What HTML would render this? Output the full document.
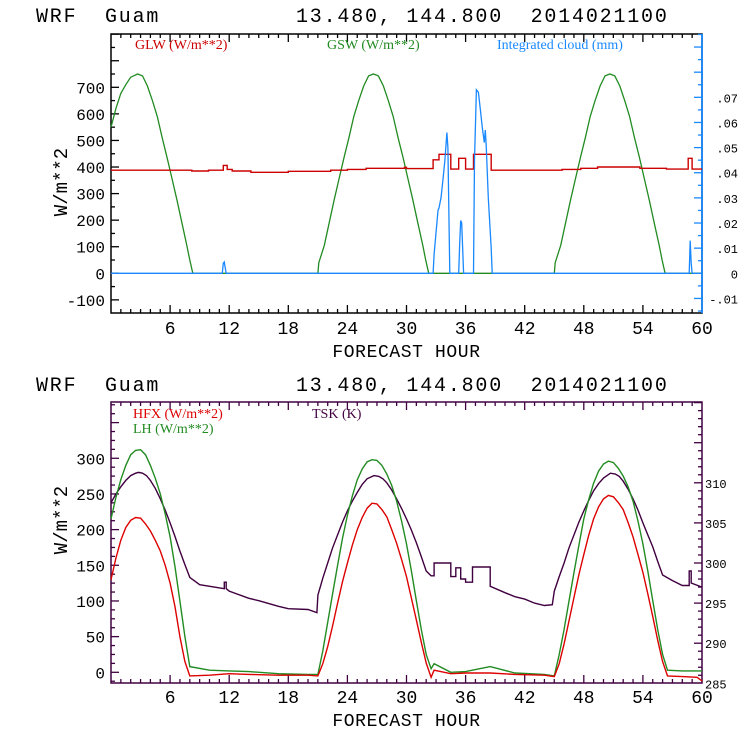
<!DOCTYPE html>
<html><head><meta charset="utf-8"><style>
body{margin:0;background:#fff;}
svg{display:block;font-family:"Liberation Mono",monospace;}
.ttl{font-size:20px;fill:#000;letter-spacing:1.8px;}
.tk{fill:#000;}
.tks{font-size:12px;fill:#000;}
.lg{font-family:"Liberation Serif",serif;font-size:14px;}
</style></head><body>
<svg id="chart" width="740" height="740" viewBox="0 0 740 740" xmlns="http://www.w3.org/2000/svg">
<text class="ttl" x="36" y="22" xml:space="preserve">WRF  Guam</text>
<text class="ttl" x="296" y="22" xml:space="preserve">13.480, 144.800  2014021100</text>
<text class="ttl" x="36" y="391" xml:space="preserve">WRF  Guam</text>
<text class="ttl" x="296" y="391" xml:space="preserve">13.480, 144.800  2014021100</text>
<g id="top"></g>
<g id="bot"></g>
</svg>
<script>
// ---- top panel data ----
const gswHours=[0,0.5,1,1.5,2,2.7,3.2,3.7,4.2,4.7,5.2,5.7,6.2,6.7,7.2,7.7,8,8.3,
21,21.1,21.65,22.15,22.65,23.15,23.65,24.15,24.65,25.15,25.65,26.15,26.65,27.15,27.65,28.15,28.65,29.15,29.65,30.15,30.65,31.15,31.65,31.95,32.25,
45,45.1,45.65,46.15,46.65,47.15,47.65,48.15,48.65,49.15,49.65,50.15,50.65,51.15,51.65,52.15,52.65,53.15,53.65,54.15,54.65,55.15,55.65,55.95,56.25,60];
const gswVals=[550,620,677,710,738,750,743,705,650,590,510,435,355,275,190,105,50,0,
0,40,105,190,275,355,435,510,590,650,705,743,750,743,705,650,590,510,435,355,275,190,105,50,0,
0,40,105,190,275,355,435,510,590,650,705,743,750,743,705,650,590,510,435,355,275,190,105,50,0,0];
const glwStepHours=[0,8.2,9.9,11.4,11.8,12.3,14.2,18.0,22.3,24.0,25.9,29.8,30.0,32.7,33.3,34.5,35.3,36.0,36.8,38.6,45.8,47.7,49.4,53.7,56.4,58.6,59.0,60];
const glwStepVals=[388,385,388,406,391,385,380,384,388,391,395,399,394,427,448,392,433,392,448,388,391,395,400,395,392,433,392];
const cloudHours=[0,11.3,11.4,11.5,11.6,11.7,32.7,32.8,32.9,33.2,33.3,33.5,33.7,33.9,34.1,34.2,34.4,35.3,35.4,35.5,35.6,35.8,36.8,36.9,37.1,37.3,37.5,37.7,37.9,38.0,38.1,38.3,38.6,38.7,58.6,58.7,58.8,58.9,59.0,60];
const cloudVals=[0,0,0.004,0.0045,0.002,0,0,0.0075,0.012,0.025,0.026,0.03,0.037,0.045,0.056,0.05,0,0,0.012,0.021,0.02,0,0,0.045,0.073,0.072,0.065,0.058,0.052,0.057,0.05,0.03,0.01,0,0,0,0.013,0.004,0,0];
const topLeftTicks=[-100,0,100,200,300,400,500,600,700];
const topRightTicks=[-0.01,0,0.01,0.02,0.03,0.04,0.05,0.06,0.07];
const topRightLabels=["-.01","0",".01",".02",".03",".04",".05",".06",".07"];
const xTicks=[6,12,18,24,30,36,42,48,54,60];
// ---- bottom panel data ----
const fluxHours=[0,0.5,1,1.5,2,2.5,3,3.5,4,4.5,5,5.5,6,6.5,7,7.5,8,
10,12,14,17,20,21,
21.5,22,22.5,23,23.5,24,24.5,25,25.5,26,26.5,27,27.5,28,28.5,29,29.5,30,30.5,31,31.5,32,32.5,
32.8,34.5,36,38.5,41,44,45,
45.5,46,46.5,47,47.5,48,48.5,49,49.5,50,50.5,51,51.5,52,52.5,53,53.5,54,54.5,55,55.5,56,56.5,
58,59.5,60];
const hfxVals=[130,160,185,203,213,217,216,208,198,185,170,150,125,92,50,15,-5,
-4,-2,-3,-4,-4,-5,
12,36,65,97,127,153,178,200,217,230,237,236,228,218,200,181,158,134,104,73,42,13,-7,
3,-2,-1,-1,-3,-4,-6,
12,40,72,105,137,165,192,215,232,243,248,246,238,228,210,190,165,140,110,78,45,15,-5,
-6,-7,-12];
const lhVals=[215,245,270,290,305,311,312,305,290,272,250,222,190,148,100,50,8,
3,2,1,-2,-3,-3,
30,70,110,150,188,220,247,270,285,295,298,297,290,278,262,240,212,180,142,100,60,25,5,
12,0,1,8,-1,-3,-5,
25,60,100,140,178,215,242,265,282,292,296,294,286,275,260,240,212,180,142,100,60,25,3,
2,2,2];
const tskHours=[0,0.5,1,1.5,2,2.5,2.8,3.2,3.6,4,4.5,5,5.5,6,6.5,7,7.5,8,9,11.5,11.5,11.7,11.7,12,14,15,17,18,20,20.9,21,21.5,22,22.5,23,23.5,24,24.5,25,25.5,26,26.7,27.2,27.6,28,28.5,29,29.5,30,30.5,31,31.5,32,32.5,32.8,32.8,34.5,34.5,35.0,35.0,35.5,35.5,36,36,36.7,36.7,38.5,38.5,40,41,42,43,44,44.8,45,45.5,46,46.5,47,47.5,48,48.5,49,49.5,50,50.7,51.2,51.6,52,52.5,53,53.5,54,54.5,55,55.5,56,57,58,58.7,58.7,58.9,58.9,60];
const tskVals=[307.5,308.6,309.5,310.3,310.9,311.2,311.3,311.2,310.9,310.3,309.3,308,306.6,305,303.3,301.5,299.8,298.2,297.3,296.8,297.6,297.6,296.8,296.5,295.6,295.3,294.6,294.3,294.2,293.8,296,298.1,300,301.9,303.5,305.1,306.5,307.7,308.8,309.8,310.5,310.9,310.8,310.5,310,309.1,308,306.8,305.5,304.1,302.5,300.8,299,298.4,298.4,300,300,298.3,298.3,299.4,299.4,298,298,297.6,297.6,299.5,299.5,297.1,296.3,295.8,295.5,295,294.7,294.8,296.5,298.3,300,301.9,303.5,305.1,306.5,307.8,309,309.9,310.6,311.2,311.1,310.8,310.2,309.2,308,306.6,305,303.5,302,300.2,298.5,297.8,297.2,297.2,299,299,297.5,297];
const botLeftTicks=[0,50,100,150,200,250,300];
const botRightTicks=[285,290,295,300,305,310];

const NS="http://www.w3.org/2000/svg";
function mk(parent,tag,attrs){const e=document.createElementNS(NS,tag);for(const k in attrs)e.setAttribute(k,attrs[k]);parent.appendChild(e);return e;}
const X0=111,X1=702;
function xs(h){return X0+(X1-X0)*h/60;}
function linePath(hs,vs,y){let d="";for(let i=0;i<hs.length;i++){d+=(i?"L":"M")+xs(hs[i]).toFixed(1)+","+y(vs[i]).toFixed(1);}return d;}
function stepPath(hs,vs,y){let d="";for(let i=0;i<vs.length;i++){const x0=xs(hs[i]),x1=xs(hs[i+1]!==undefined?hs[i+1]:60);d+=(i?"L":"M")+x0.toFixed(1)+","+y(vs[i]).toFixed(1)+"L"+x1.toFixed(1)+","+y(vs[i]).toFixed(1);}return d;}

function xAxis(g,top,bot,col,labY){
  for(let h=1;h<60;h++){const x=xs(h);const L=(h%6===0)?8:4;
    mk(g,"line",{x1:x,y1:bot,x2:x,y2:bot-L,stroke:col,"stroke-width":1.3});
    mk(g,"line",{x1:x,y1:top,x2:x,y2:top+L,stroke:col,"stroke-width":1.3});}
  xTicks.forEach(t=>{const e=mk(g,"text",{x:xs(t),y:labY,"text-anchor":"middle",class:"tk","font-size":"18"});e.textContent=t;
    
    });
  const e=mk(g,"text",{x:(X0+X1)/2,y:labY+23,"text-anchor":"middle",class:"tk","font-size":"18","letter-spacing":"0.6"});e.textContent="FORECAST HOUR";
  
  
}
function yTitle(g,cy){const e=mk(g,"text",{x:0,y:0,transform:`translate(67,${cy}) rotate(-90)`,"text-anchor":"middle",class:"tk","font-size":"19"});e.textContent="W/m**2";
  
  }
function legend(g,x,y,txt,col,name){const e=mk(g,"text",{x:x,y:y,class:"lg",fill:col});e.textContent=txt;
  
  }

// ---- TOP ----
(function(){
  const g=document.getElementById('top');const T=34,B=313;
  const yl=v=>273.3-v*0.2657; const yr=v=>273.3-v*2514;
  const box=mk(g,"rect",{x:X0,y:T,width:X1-X0,height:B-T,fill:"none",stroke:"#000","stroke-width":1.5});
  
  mk(g,"line",{x1:X1,y1:T,x2:X1,y2:B,stroke:"#1a88ff","stroke-width":1.8});
  for(let v=-150;v<=900;v+=50){const y=yl(v);if(y<T||y>B)continue;const L=v%100===0?8:4;mk(g,"line",{x1:X0,y1:y,x2:X0+L,y2:y,stroke:"#000","stroke-width":1.3});}
  topLeftTicks.forEach(v=>{const e=mk(g,"text",{x:105,y:yl(v)+6,"text-anchor":"end",class:"tk","font-size":"16"});e.textContent=v;
    });
  for(let i=-3;i<=19;i++){const v=i*0.005;const y=yr(v);if(y<T||y>B)continue;const maj=i%2===0;mk(g,"line",{x1:X1,y1:y,x2:X1-(maj?8:4),y2:y,stroke:"#1a88ff","stroke-width":1.3});}
  topRightTicks.forEach((v,i)=>{const e=mk(g,"text",{x:738,y:yr(v)+5,"text-anchor":"end",class:"tks"});e.textContent=topRightLabels[i];
    });
  xAxis(g,T,B,"#000",334);
  yTitle(g,182);
  let p=mk(g,"path",{d:linePath(gswHours,gswVals,yl),fill:"none",stroke:"#228b22","stroke-width":1.3});
  
  p=mk(g,"path",{d:stepPath(glwStepHours,glwStepVals,yl),fill:"none",stroke:"#cc0000","stroke-width":1.4});
  
  p=mk(g,"path",{d:linePath(cloudHours,cloudVals,yr),fill:"none",stroke:"#1a88ff","stroke-width":1.3});
  
  legend(g,135,49,"GLW (W/m**2)","#cc0000","legend-glw");
  legend(g,327,49,"GSW (W/m**2)","#228b22","legend-gsw");
  legend(g,497,49,"Integrated cloud (mm)","#1a88ff","legend-cloud");
})();

// ---- BOTTOM ----
(function(){
  const g=document.getElementById('bot');const T=402,B=683;const col="#400040";
  const yl=v=>672.3-v*0.7134; const yr=v=>683.3-(v-285)*8.02;
  const box=mk(g,"rect",{x:X0,y:T,width:X1-X0,height:B-T,fill:"none",stroke:col,"stroke-width":1.5});
  
  for(let v=-12.5;v<=400;v+=12.5){const y=yl(v);if(y<T||y>B)continue;const L=v%50===0?8:4;mk(g,"line",{x1:X0,y1:y,x2:X0+L,y2:y,stroke:col,"stroke-width":1.3});}
  botLeftTicks.forEach(v=>{const e=mk(g,"text",{x:105,y:yl(v)+6,"text-anchor":"end",class:"tk","font-size":"16"});e.textContent=v;
    });
  for(let v=285;v<=320;v+=1){const y=yr(v);if(y<T||y>B)continue;mk(g,"line",{x1:X1,y1:y,x2:X1-(v%5===0?8:4),y2:y,stroke:col,"stroke-width":1.3});}
  botRightTicks.forEach(v=>{const e=mk(g,"text",{x:705,y:yr(v)+5,class:"tks"});e.textContent=v;
    });
  xAxis(g,T,B,col,703);
  yTitle(g,520);
  let p=mk(g,"path",{d:linePath(tskHours,tskVals,yr),fill:"none",stroke:col,"stroke-width":1.4});
  
  p=mk(g,"path",{d:linePath(fluxHours,lhVals,yl),fill:"none",stroke:"#228b22","stroke-width":1.4});
  
  p=mk(g,"path",{d:linePath(fluxHours,hfxVals,yl),fill:"none",stroke:"#dd0000","stroke-width":1.4});
  
  legend(g,133,418,"HFX (W/m**2)","#dd0000","legend-hfx");
  legend(g,133,433,"LH  (W/m**2)","#228b22","legend-lh");
  legend(g,312,418,"TSK (K)",col,"legend-tsk");
})();
</script>
</body></html>
